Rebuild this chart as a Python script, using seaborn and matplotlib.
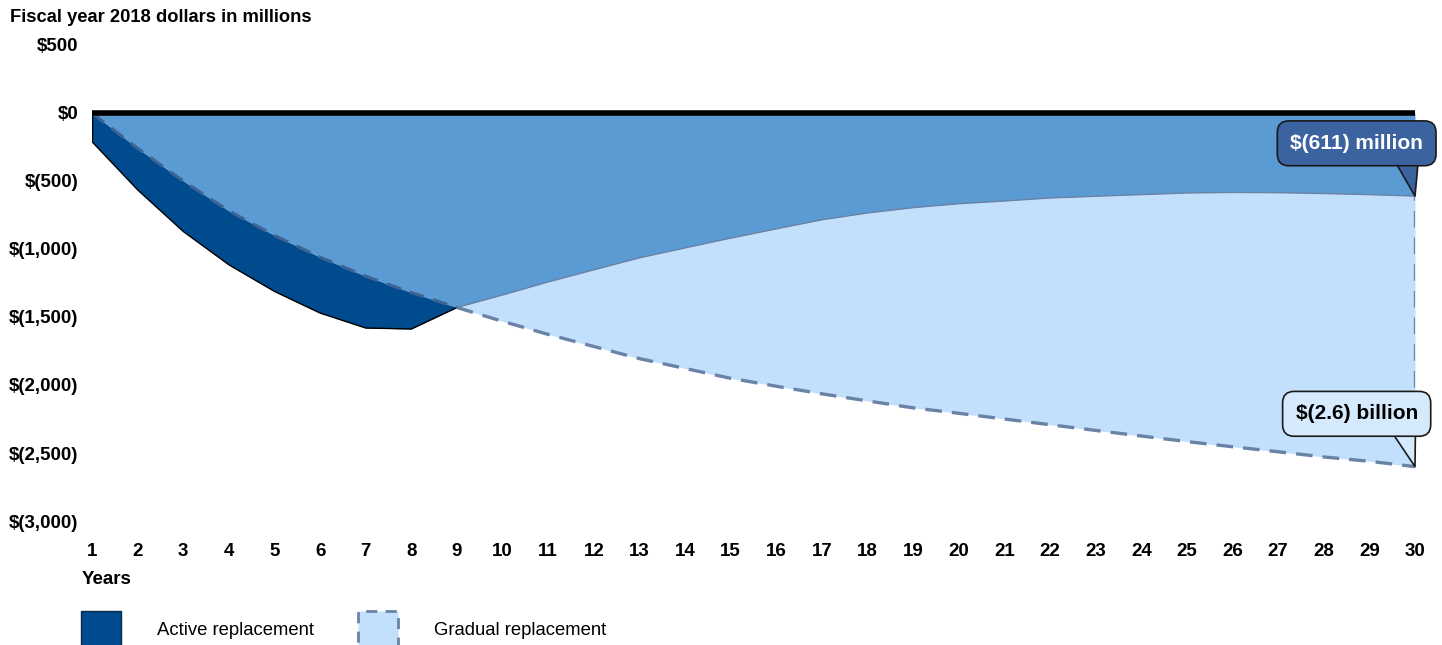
import numpy as np
import pandas as pd
import matplotlib
matplotlib.use('Agg')
import matplotlib.pyplot as plt
from matplotlib.patches import Patch
import seaborn as sns

# ── Data (millions of FY2018 dollars, cumulative) ─────────────────
years = list(range(1, 31))
active = [-211, -565, -871, -1116, -1312, -1471, -1581, -1588, -1430, -1338,
          -1242, -1153, -1065, -992, -920, -852, -785, -735, -696, -667,
          -647, -625, -612, -600, -588, -584, -586, -592, -600, -611]
gradual = [0, -260, -500, -720, -900, -1060, -1200, -1320, -1430, -1532,
           -1628, -1717, -1806, -1878, -1951, -2009, -2065, -2117, -2168, -2208,
           -2250, -2292, -2334, -2375, -2416, -2454, -2491, -2529, -2561, -2600]
y_ticks = [500, 0, -500, -1000, -1500, -2000, -2500, -3000]
y_labels = ['$500', '$0', '$(500)', '$(1,000)', '$(1,500)', '$(2,000)', '$(2,500)', '$(3,000)']
label_active = '$(611) million'
label_gradual = '$(2.6) billion'

DARK = '#004b8d'
MID = '#5b9bd3'
LIGHT = '#c2e0fb'
DASH = '#6a82a6'

df = pd.DataFrame({'year': years, 'active': active, 'gradual': gradual})
x = df['year'].to_numpy()
a = df['active'].to_numpy()
g = df['gradual'].to_numpy()

sns.set_theme(style='white')
plt.rcParams['font.family'] = ['Liberation Sans', 'DejaVu Sans']
plt.rcParams['text.color'] = 'black'

fig = plt.figure(figsize=(14.42, 6.45), dpi=100)
ax = fig.add_axes([92 / 1442, 1 - 521 / 645, (1415 - 92) / 1442, (521 - 45) / 645])

# ── Filled areas ──────────────────────────────────────────────────
ax.fill_between(x, 0, np.maximum(a, g), color=MID, lw=0, zorder=1)
ax.fill_between(x, a, g, where=a <= g, interpolate=True, color=DARK, lw=0, zorder=1)
ax.fill_between(x, g, a, where=g <= a, interpolate=True, color=LIGHT, lw=0, zorder=1)

# ── Outlines ──────────────────────────────────────────────────────
cross = int(np.argmin(np.abs(a - g)))
early = df.iloc[:cross + 1]
late = df.iloc[cross:]
sns.lineplot(data=early, x='year', y='active', color='black', lw=1, ax=ax, zorder=3)
sns.lineplot(data=late, x='year', y='active', color=DASH, lw=1, ax=ax, zorder=3)
ax.vlines(x[0], a[0], 0, color='black', lw=1, zorder=3)
sns.lineplot(data=early, x='year', y='gradual', color='#3d6494', lw=2.2,
             ax=ax, zorder=3).lines[-1].set_dashes((5, 3))
sns.lineplot(data=late, x='year', y='gradual', color=DASH, lw=2.4,
             ax=ax, zorder=3).lines[-1].set_dashes((5, 3))
ax.vlines(x[-1], g[-1], a[-1], color=DASH, lw=2.4, linestyles=(0, (5, 3)), zorder=3)
ax.axhline(0, color='black', lw=4, zorder=4)

# ── Callouts ──────────────────────────────────────────────────────
for label, yv, fc, tc in [(label_active, a[-1], '#3b63a0', 'white'),
                          (label_gradual, g[-1], '#d5eafc', 'black')]:
    ax.annotate(label, xy=(x[-1], yv), xytext=(-42, 38),
                textcoords='offset points', ha='center', va='center',
                fontsize=15, fontweight='bold', color=tc, annotation_clip=False,
                bbox=dict(boxstyle='round,pad=0.62,rounding_size=0.55', fc=fc, ec='#1a1a1a', lw=1.2),
                arrowprops=dict(arrowstyle='wedge,tail_width=1.5,shrink_factor=0.5', fc=fc,
                                ec='#1a1a1a', lw=1.2, relpos=(0.86, 0.25), patchA=None,
                                shrinkA=0, shrinkB=0),
                zorder=6)

# ── Axes ──────────────────────────────────────────────────────────
ax.set_xlim(1, 30)
ax.set_ylim(-3000, 500)
ax.set_xticks(years)
ax.set_xticklabels([str(v) for v in years], fontsize=13.5, fontweight='bold')
ax.set_yticks(y_ticks)
ax.set_yticklabels(y_labels, fontsize=13.5, fontweight='bold')
ax.tick_params(axis='both', length=0, colors='black')
ax.tick_params(axis='x', pad=15.5)
ax.tick_params(axis='y', pad=10)
ax.set_xlabel('')
ax.set_ylabel('')
sns.despine(ax=ax, left=True, bottom=True)

fig.text(10 / 1442, 1 - 17 / 645, 'Fiscal year 2018 dollars in millions',
         fontsize=13.2, fontweight='bold', ha='left', va='center', color='black')
fig.text(82 / 1442, 1 - 580 / 645, 'Years', fontsize=13.5, fontweight='bold',
         ha='left', va='center', color='black')

handles = [Patch(fc=DARK, ec='#0a2a50', lw=1, label='Active replacement'),
           Patch(fc=LIGHT, ec=DASH, lw=2, ls=(0, (4, 3)), label='Gradual replacement')]
fig.legend(handles=handles, loc='lower left', bbox_to_anchor=(81 / 1442, -0.003),
           ncol=2, frameon=False, fontsize=13.3, handlelength=2.17, handleheight=2.6,
           handletextpad=1.95, columnspacing=2.35, borderpad=0, borderaxespad=0,
           labelcolor='black')

plt.savefig('out.png', dpi=100)
